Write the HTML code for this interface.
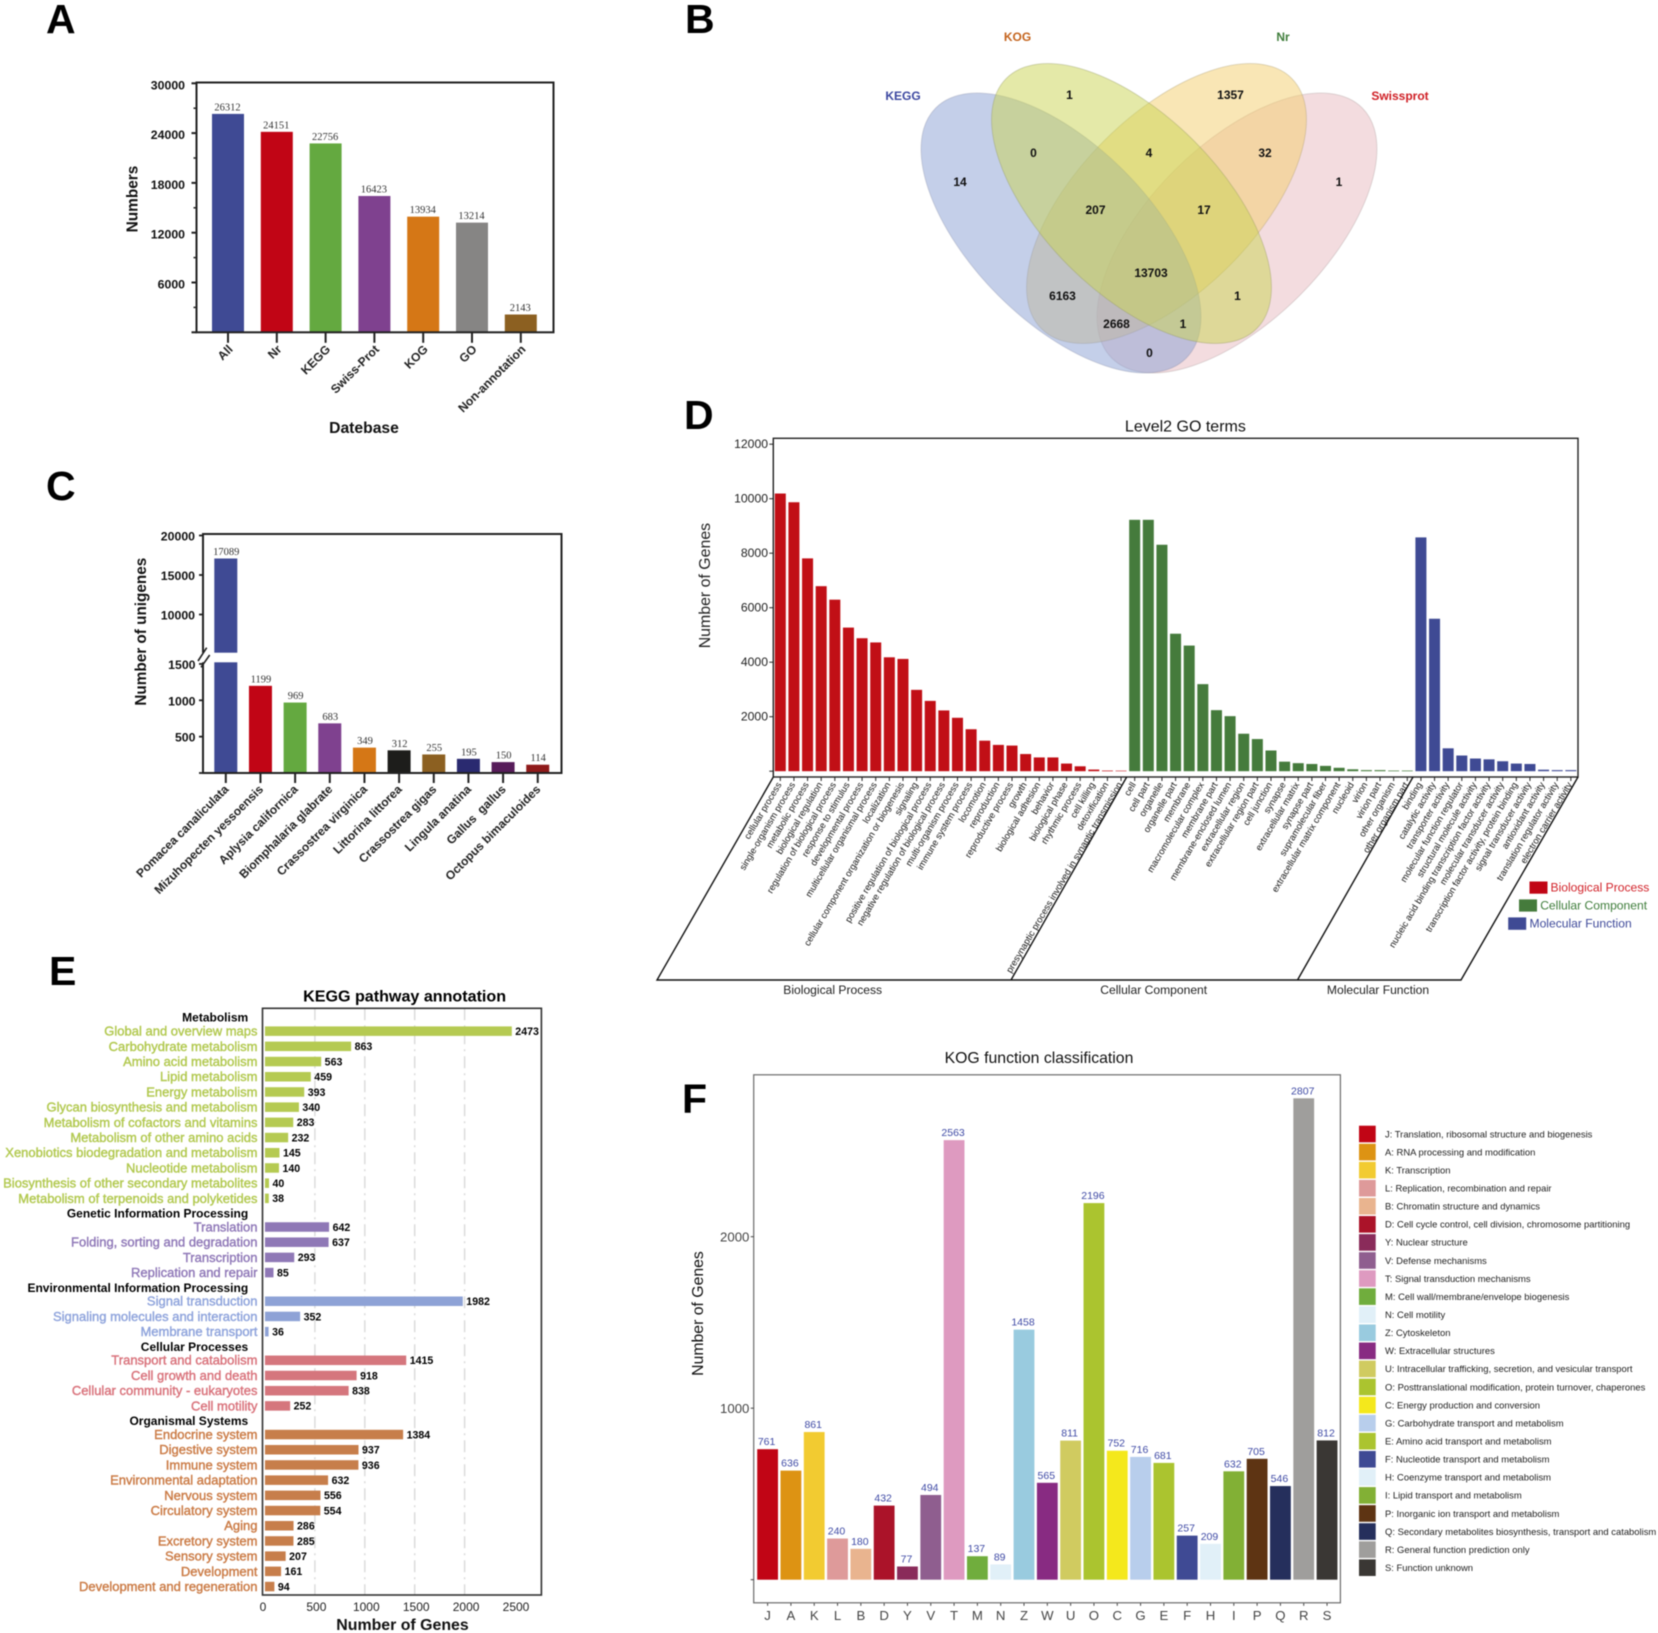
<!DOCTYPE html>
<html lang="en">
<head>
<meta charset="utf-8">
<title>Unigene annotation figure</title>
<style>
html,body{margin:0;padding:0;background:#fff;width:1658px;height:1633px;overflow:hidden}
svg{display:block;filter:blur(.4px)}
text{font-family:"Liberation Sans",Arial,sans-serif}
.serif{font-family:"Liberation Serif","Times New Roman",serif}
</style>
</head>
<body>
<svg id="figure" xmlns="http://www.w3.org/2000/svg" width="1658" height="1633" viewBox="0 0 1658 1633">
  <rect x="0" y="0" width="1658" height="1633" fill="#fff"/>
  <g font-weight="bold" font-size="41" fill="#000">
    <text x="46" y="33">A</text>
    <text x="685" y="33">B</text>
    <text x="46" y="500">C</text>
    <text x="684" y="429">D</text>
    <text x="49" y="985">E</text>
    <text x="682" y="1113">F</text>
  </g>
  <g id="panel-a"></g>
  <g id="panel-b">
    <ellipse cx="1237" cy="233" rx="177" ry="88.5" transform="rotate(-45 1237 233)" fill="#e7b9bf" fill-opacity=".5" stroke="#a89a9c" stroke-opacity=".35"/>
    <ellipse cx="1166.5" cy="203.5" rx="177" ry="88.5" transform="rotate(-45 1166.5 203.5)" fill="#f3cd6b" fill-opacity=".5" stroke="#a89a70" stroke-opacity=".35"/>
    <ellipse cx="1061" cy="233" rx="177" ry="88.5" transform="rotate(45 1061 233)" fill="#899fd3" fill-opacity=".5" stroke="#8a8fa8" stroke-opacity=".35"/>
    <ellipse cx="1131.5" cy="203.5" rx="177" ry="88.5" transform="rotate(45 1131.5 203.5)" fill="#c9d351" fill-opacity=".5" stroke="#8f9660" stroke-opacity=".35"/>
    <g font-weight="bold" font-size="12" text-anchor="middle">
      <text x="903" y="100" fill="#3c47a0">KEGG</text>
      <text x="1017.5" y="41" fill="#c4631c">KOG</text>
      <text x="1283" y="41" fill="#3f7d3b">Nr</text>
      <text x="1400" y="100" fill="#cf1e24">Swissprot</text>
    </g>
    <g font-weight="bold" font-size="12" text-anchor="middle" fill="#111">
      <text x="1069.5" y="99">1</text>
      <text x="1230.5" y="99">1357</text>
      <text x="1033.5" y="157">0</text>
      <text x="1149" y="157">4</text>
      <text x="1265" y="157">32</text>
      <text x="960" y="186">14</text>
      <text x="1339" y="186">1</text>
      <text x="1095.5" y="214">207</text>
      <text x="1204" y="214">17</text>
      <text x="1151" y="277">13703</text>
      <text x="1062.5" y="300">6163</text>
      <text x="1237.5" y="300">1</text>
      <text x="1116.5" y="328">2668</text>
      <text x="1183" y="328">1</text>
      <text x="1149.5" y="357">0</text>
    </g>
  </g>
  <g id="panel-c"></g>
  <g id="panel-d"></g>
  <g id="panel-e"></g>
  <g id="panel-f"></g>
</svg>
<script>
/* ---------- Panel A data ---------- */
const aCategories = ['All','Nr','KEGG','Swiss-Prot','KOG','GO','Non-annotation'];
const aValues = [26312,24151,22756,16423,13934,13214,2143];
const aMajorTicks = [0,6000,12000,18000,24000,30000];
const aMinorTicks = [3000,9000,15000,21000,27000];
const aColors = ['#3f4a94','#c10515','#64a940','#7f418f','#d57716','#868584','#8c6021'];

/* ---------- Panel C data ---------- */
const cCategories = ['Pomacea canaliculata','Mizuhopecten yessoensis','Aplysia californica','Biomphalaria glabrate','Crassostrea virginica','Littorina littorea','Crassostrea gigas','Lingula anatina','Gallus\u00A0\u00A0gallus','Octopus bimaculoides'];
const cValues = [17089,1199,969,683,349,312,255,195,150,114];
const cLowerTicks = [0,500,1000,1500];
const cUpperTicks = [10000,15000,20000];
const cColors = ['#3f4a94','#c10515','#64a940','#7f418f','#d57716','#1d1d1b','#8c6021','#2a2a70','#571c5a','#8f1a1a'];

/* ---------- Panel D data ---------- */
const dBioTerms = ['cellular process','single-organism process','metabolic process','biological regulation','regulation of biological process','response to stimulus','developmental process','multicellular organismal process','localization','cellular component organization or biogenesis','signaling','positive regulation of biological process','negative regulation of biological process','multi-organism process','immune system process','locomotion','reproduction','reproductive process','growth','biological adhesion','behavior','biological phase','rhythmic process','cell killing','detoxification','presynaptic process involved in synaptic transmission'];
const dBioValues = [10190,9870,7810,6790,6295,5270,4880,4725,4180,4120,2985,2580,2230,1960,1540,1120,965,940,630,505,505,280,180,60,25,20];
const dCellTerms = ['cell','cell part','organelle','organelle part','membrane','macromolecular complex','membrane part','membrane-enclosed lumen','extracellular region','extracellular region part','cell junction','synapse','extracellular matrix','synapse part','supramolecular fiber','extracellular matrix component','nucleoid','virion','virion part','other organism','other organism part'];
const dCellValues = [9225,9225,8310,5045,4610,3195,2240,2020,1375,1180,760,350,295,265,195,125,70,40,40,25,25];
const dMolTerms = ['binding','catalytic activity','transporter activity','molecular function regulator','structural molecule activity','nucleic acid binding transcription factor activity','molecular transducer activity','transcription factor activity, protein binding','signal transducer activity','antioxidant activity','translation regulator activity','electron carrier activity'];
const dMolValues = [8580,5595,840,575,465,435,365,280,265,55,40,40];
const dTicks = [0,2000,4000,6000,8000,10000,12000];

/* ---------- Panel E data ---------- */
const eHeaders = ['Metabolism','Genetic Information Processing','Environmental Information Processing','Cellular Processes','Organismal Systems'];
const eMetabolismTerms = ['Global and overview maps','Carbohydrate metabolism','Amino acid metabolism','Lipid metabolism','Energy metabolism','Glycan biosynthesis and metabolism','Metabolism of cofactors and vitamins','Metabolism of other amino acids','Xenobiotics biodegradation and metabolism','Nucleotide metabolism','Biosynthesis of other secondary metabolites','Metabolism of terpenoids and polyketides'];
const eMetabolismValues = [2473,863,563,459,393,340,283,232,145,140,40,38];
const eGeneticTerms = ['Translation','Folding, sorting and degradation','Transcription','Replication and repair'];
const eGeneticValues = [642,637,293,85];
const eEnvironmentalTerms = ['Signal transduction','Signaling molecules and interaction','Membrane transport'];
const eEnvironmentalValues = [1982,352,36];
const eCellularTerms = ['Transport and catabolism','Cell growth and death','Cellular community - eukaryotes','Cell motility'];
const eCellularValues = [1415,918,838,252];
const eOrganismalTerms = ['Endocrine system','Digestive system','Immune system','Environmental adaptation','Nervous system','Circulatory system','Aging','Excretory system','Sensory system','Development','Development and regeneration'];
const eOrganismalValues = [1384,937,936,632,556,554,286,285,207,161,94];
const eTicks = [0,500,1000,1500,2000,2500];
const eGridTicks = [500,1000,1500,2000];
const eBarColors = ['#b5ca52','#8f78b6','#8ea2d6','#d5767d','#c77e4b'];
const eTextColors = ['#b2c950','#9079b8','#8fa4dc','#d9737c','#cb7c47'];

/* ---------- Panel F data ---------- */
const fCategories = ['J','A','K','L','B','D','Y','V','T','M','N','Z','W','U','O','C','G','E','F','H','I','P','Q','R','S'];
const fValues = [761,636,861,240,180,432,77,494,2563,137,89,1458,565,811,2196,752,716,681,257,209,632,705,546,2807,812];
const fTicks = [0,1000,2000];
const fDescriptions = ['J: Translation, ribosomal structure and biogenesis','A: RNA processing and modification','K: Transcription','L: Replication, recombination and repair','B: Chromatin structure and dynamics','D: Cell cycle control, cell division, chromosome partitioning','Y: Nuclear structure','V: Defense mechanisms','T: Signal transduction mechanisms','M: Cell wall/membrane/envelope biogenesis','N: Cell motility','Z: Cytoskeleton','W: Extracellular structures','U: Intracellular trafficking, secretion, and vesicular transport','O: Posttranslational modification, protein turnover, chaperones','C: Energy production and conversion','G: Carbohydrate transport and metabolism','E: Amino acid transport and metabolism','F: Nucleotide transport and metabolism','H: Coenzyme transport and metabolism','I: Lipid transport and metabolism','P: Inorganic ion transport and metabolism','Q: Secondary metabolites biosynthesis, transport and catabolism','R: General function prediction only','S: Function unknown'];
const fColors = ['#c10515','#dd9313','#f2cb31','#de9a9a','#e9b48f','#ab1329','#8a2b5a','#8f5e8f','#de9ac0','#70ad3d','#e1f0f8','#99cbdf','#882b82','#d0cb60','#abc42f','#f4e81c','#b8ceec','#abc42f','#3f4a94','#e1f0f8','#82b035','#5e3413','#252f5c','#9f9e9c','#3a3734'];

const NS = 'http://www.w3.org/2000/svg';
function mk(parent, tag, attrs, content) {
  const el = document.createElementNS(NS, tag);
  for (const k in attrs) el.setAttribute(k, attrs[k]);
  if (content !== undefined) el.textContent = content;
  parent.appendChild(el);
  return el;
}
function slug(s) { return String(s).toLowerCase().replace(/[^a-z0-9]+/g, '-').replace(/^-|-$/g, ''); }

/* ========== PANEL A ========== */
(function () {
  const g = document.getElementById('panel-a');
  const L = 196.5, R = 553.5, T = 82.5, B = 332.3;
  const yA = v => B - v * (B - 83.3) / 30000;
  const xA = i => 228 + i * 48.8;
  aValues.forEach((v, i) => {
    const bar = mk(g, 'rect', {x: xA(i) - 16, y: yA(v), width: 32, height: B - yA(v), fill: aColors[i]});
    
    
    const lab = mk(g, 'text', {x: xA(i) - 0.5, y: yA(v) - 3.5, 'text-anchor': 'middle', 'font-size': 10.5, fill: '#333', class: 'serif'}, v);
    
    
    const tick = mk(g, 'line', {x1: xA(i), x2: xA(i), y1: B, y2: B + 10.5, stroke: '#222', 'stroke-width': 2});
    
    
    const ax = xA(i) + 5.5, ay = 350;
    const cat = mk(g, 'text', {x: ax, y: ay, 'text-anchor': 'end', 'font-size': 12.1, 'font-weight': 'bold', fill: '#222', transform: `rotate(-45 ${ax} ${ay})`}, aCategories[i]);
    
    
  });
  const frame = mk(g, 'rect', {x: L, y: T, width: R - L, height: B - T, fill: 'none', stroke: '#222', 'stroke-width': 2});
  
  
  aMajorTicks.forEach(v => {
    const tick = mk(g, 'line', {x1: L - 5, x2: L, y1: yA(v), y2: yA(v), stroke: '#222', 'stroke-width': 2});
    
    
    if (v > 0) {
      const lab = mk(g, 'text', {x: 185, y: yA(v) + 6, 'text-anchor': 'end', 'font-size': 12.3, 'font-weight': 'bold', fill: '#111'}, v);
      
      
    }
  });
  aMinorTicks.forEach(v => {
    const tick = mk(g, 'line', {x1: L - 3, x2: L, y1: yA(v), y2: yA(v), stroke: '#222', 'stroke-width': 1.5});
    
    
  });
  const yt = mk(g, 'text', {x: 0, y: 0, 'text-anchor': 'middle', 'font-size': 15.4, 'font-weight': 'bold', fill: '#111', transform: 'translate(137.5 199) rotate(-90)'}, 'Numbers');
  
  
  const xt = mk(g, 'text', {x: 364, y: 433, 'text-anchor': 'middle', 'font-size': 15.7, 'font-weight': 'bold', fill: '#111'}, 'Datebase');
  
  
})();

/* ========== PANEL C ========== */
(function () {
  const g = document.getElementById('panel-c');
  const L = 203, R = 561.5, T = 534, B = 773;
  const breakLow = 662.3, breakHigh = 652.7;
  const yLow = v => B - v * 0.0727;
  const yHigh = v => 614.5 - (v - 10000) * 0.0079;
  const xC = i => 225.8 + i * 34.66;
  cValues.forEach((v, i) => {
    const x = xC(i) - 11.5;
    let top;
    if (v > 1500) {
      top = yHigh(v);
      const upper = mk(g, 'rect', {x: x, y: top, width: 23, height: breakHigh - top, fill: cColors[i]});
      
      
      const lower = mk(g, 'rect', {x: x, y: breakLow, width: 23, height: B - breakLow, fill: cColors[i]});
      
      
    } else {
      top = yLow(v);
      const bar = mk(g, 'rect', {x: x, y: top, width: 23, height: B - top, fill: cColors[i]});
      
      
    }
    const lab = mk(g, 'text', {x: xC(i) + 0.5, y: top - 3.5, 'text-anchor': 'middle', 'font-size': 10.5, fill: '#333', class: 'serif'}, v);
    
    
    const tick = mk(g, 'line', {x1: xC(i), x2: xC(i), y1: B, y2: B + 10, stroke: '#222', 'stroke-width': 2});
    
    
    const ax = xC(i) + 3.5, ay = 790;
    const cat = mk(g, 'text', {x: ax, y: ay, 'text-anchor': 'end', 'font-size': 12, 'font-weight': 'bold', fill: '#222', transform: `rotate(-45 ${ax} ${ay})`}, cCategories[i]);
    
    
  });
  const frame = mk(g, 'path', {d: `M${L} ${breakHigh}V${T}H${R}V${B}H${L}V${breakLow}`, fill: 'none', stroke: '#222', 'stroke-width': 2});
  
  
  const b1 = mk(g, 'line', {x1: 198, y1: 661, x2: 206.7, y2: 647.7, stroke: '#222', 'stroke-width': 1.6});
  
  
  const b2 = mk(g, 'line', {x1: 201, y1: 667.3, x2: 209.7, y2: 655, stroke: '#222', 'stroke-width': 1.6});
  
  
  cLowerTicks.forEach(v => {
    const tick = mk(g, 'line', {x1: L - 4, x2: L, y1: yLow(v), y2: yLow(v), stroke: '#222', 'stroke-width': 1.8});
    
    
    if (v > 0) {
      const lab = mk(g, 'text', {x: 195.5, y: yLow(v) + 5, 'text-anchor': 'end', 'font-size': 12.3, 'font-weight': 'bold', fill: '#111'}, v);
      
      
    }
  });
  cUpperTicks.forEach(v => {
    const tick = mk(g, 'line', {x1: L - 4, x2: L, y1: yHigh(v), y2: yHigh(v), stroke: '#222', 'stroke-width': 1.8});
    
    
    const lab = mk(g, 'text', {x: 195, y: yHigh(v) + 5, 'text-anchor': 'end', 'font-size': 12.3, 'font-weight': 'bold', fill: '#111'}, v);
    
    
  });
  const yt = mk(g, 'text', {x: 0, y: 0, 'text-anchor': 'middle', 'font-size': 15.3, 'font-weight': 'bold', fill: '#111', transform: 'translate(146 631.7) rotate(-90)'}, 'Number of unigenes');
  
  
})();

/* ========== PANEL D ========== */
(function () {
  const g = document.getElementById('panel-d');
  const L = 773.3, R = 1578, T = 438.3, B = 777, Y0 = 771.2, BASE = 980;
  const yD = v => Y0 - v * 0.02725;
  const xD = i => 780.3 + i * 13.63;
  const groups = [
    {terms: dBioTerms, values: dBioValues, color: '#c10f16'},
    {terms: dCellTerms, values: dCellValues, color: '#457b3c'},
    {terms: dMolTerms, values: dMolValues, color: '#3f4a94'}
  ];
  let idx = 0;
  groups.forEach(grp => {
    grp.values.forEach((v, j) => {
      const i = idx++;
      const bar = mk(g, 'rect', {x: xD(i) - 5.5, y: yD(v), width: 11, height: Y0 - yD(v), fill: grp.color});
      
      
      const tick = mk(g, 'line', {x1: xD(i), x2: xD(i), y1: B, y2: B + 4, stroke: '#222', 'stroke-width': 1});
      
      
      const ax = xD(i) + 1.5, ay = 784.5;
      const lab = mk(g, 'text', {x: ax, y: ay, 'text-anchor': 'end', 'font-size': 9.25, fill: '#111', transform: `rotate(-59.5 ${ax} ${ay})`}, grp.terms[j]);
      
      
    });
  });
  const frame = mk(g, 'rect', {x: L, y: T, width: R - L, height: B - T, fill: 'none', stroke: '#222', 'stroke-width': 1.4});
  
  
  const brackets = mk(g, 'path', {d: `M${L} ${B}L657 ${BASE}H1461L${R} ${B}M1011 ${BASE}L1126.7 ${B}M1297.5 ${BASE}L1413 ${B}`, fill: 'none', stroke: '#111', 'stroke-width': 1.4});
  
  
  dTicks.forEach(v => {
    const tick = mk(g, 'line', {x1: L - 4, x2: L, y1: yD(v), y2: yD(v), stroke: '#222', 'stroke-width': 1});
    
    
    if (v > 0) {
      const lab = mk(g, 'text', {x: 768, y: yD(v) + 3.7, 'text-anchor': 'end', 'font-size': 12.2, fill: '#222'}, v);
      
      
    }
  });
  const title = mk(g, 'text', {x: 1185.4, y: 431.5, 'text-anchor': 'middle', 'font-size': 16, fill: '#111'}, 'Level2 GO terms');
  
  
  const yt = mk(g, 'text', {x: 0, y: 0, 'text-anchor': 'middle', 'font-size': 15.9, fill: '#222', transform: 'translate(710 585.6) rotate(-90)'}, 'Number of Genes');
  
  
  const g1 = mk(g, 'text', {x: 832.7, y: 994, 'text-anchor': 'middle', 'font-size': 12.1, fill: '#222'}, 'Biological Process');
  
  
  const g2 = mk(g, 'text', {x: 1153.7, y: 994, 'text-anchor': 'middle', 'font-size': 12.1, fill: '#222'}, 'Cellular Component');
  
  
  const g3 = mk(g, 'text', {x: 1378, y: 994, 'text-anchor': 'middle', 'font-size': 12.1, fill: '#222'}, 'Molecular Function');
  
  

  const s1 = mk(g, 'rect', {x: 1529.5, y: 881.5, width: 18, height: 12.2, fill: '#c10515'});
  
  
  const t1 = mk(g, 'text', {x: 1550.5, y: 891.3, 'font-size': 12.1, fill: '#d2232a'}, 'Biological Process');
  
  
  const s2 = mk(g, 'rect', {x: 1519, y: 899.4, width: 18, height: 12.2, fill: '#457b3c'});
  
  
  const t2 = mk(g, 'text', {x: 1540.2, y: 909.4, 'font-size': 12.1, fill: '#3f7d3b'}, 'Cellular Component');
  
  
  const s3 = mk(g, 'rect', {x: 1508.2, y: 917.4, width: 18, height: 12.4, fill: '#3f4a94'});
  
  
  const t3 = mk(g, 'text', {x: 1529.5, y: 927.4, 'font-size': 12.1, fill: '#3f4a9a'}, 'Molecular Function');
  
  
})();

/* ========== PANEL E ========== */
(function () {
  const g = document.getElementById('panel-e');
  const L = 262.5, R = 541.4, T = 1008.3, B = 1595;
  const xE = v => 265 + v * 0.0998;
  const STEP = 15.2, HEADER_GAP = 13.45;
  eGridTicks.forEach(v => {
    const grid = mk(g, 'line', {x1: xE(v), x2: xE(v), y1: T, y2: B, stroke: '#dcdcdc', 'stroke-width': 1.5, 'stroke-dasharray': '12 5 2 5'});
    
    
  });
  eTicks.forEach(v => {
    const lx = v === 0 ? xE(v) - 2 : xE(v) + 1.5;
    const lab = mk(g, 'text', {x: lx, y: 1611, 'text-anchor': 'middle', 'font-size': 12, fill: '#222'}, v);
    
    
  });
  const termLists = [eMetabolismTerms, eGeneticTerms, eEnvironmentalTerms, eCellularTerms, eOrganismalTerms];
  const valueLists = [eMetabolismValues, eGeneticValues, eEnvironmentalValues, eCellularValues, eOrganismalValues];
  let y = 1017.7;
  eHeaders.forEach((h, gi) => {
    const head = mk(g, 'text', {x: 248.2, y: y + 4, 'text-anchor': 'end', 'font-size': 12, 'font-weight': 'bold', fill: '#000'}, h);
    
    
    y += HEADER_GAP;
    valueLists[gi].forEach((v, j) => {
      const term = termLists[gi][j];
      const bar = mk(g, 'rect', {x: 265, y: y - 4.75, width: xE(v) - 265, height: 9.5, fill: eBarColors[gi]});
      
      
      const lab = mk(g, 'text', {x: 257.5, y: y + 4.4, 'text-anchor': 'end', 'font-size': 13, fill: eTextColors[gi], stroke: eTextColors[gi], 'stroke-width': 0.4}, term);
      
      
      const val = mk(g, 'text', {x: xE(v) + 3.5, y: y + 3.8, 'font-size': 10.6, 'font-weight': 'bold', fill: '#000'}, v);
      
      
      y += STEP;
    });
  });
  const frame = mk(g, 'rect', {x: L, y: T, width: R - L, height: B - T, fill: 'none', stroke: '#333', 'stroke-width': 1.6});
  
  
  const title = mk(g, 'text', {x: 404.6, y: 1001.5, 'text-anchor': 'middle', 'font-size': 16.1, 'font-weight': 'bold', fill: '#000'}, 'KEGG pathway annotation');
  
  
  const xt = mk(g, 'text', {x: 402.5, y: 1630, 'text-anchor': 'middle', 'font-size': 15.9, 'font-weight': 'bold', fill: '#111'}, 'Number of Genes');
  
  
})();

/* ========== PANEL F ========== */
(function () {
  const g = document.getElementById('panel-f');
  const L = 753.7, R = 1340.4, T = 1074.8, B = 1602.8, Y0 = 1579.7;
  const yF = v => Y0 - v * 0.1715;
  const xF = i => 767.6 + i * 23.31;
  fValues.forEach((v, i) => {
    const c = fCategories[i];
    const bar = mk(g, 'rect', {x: xF(i) - 10.4, y: yF(v), width: 20.8, height: Y0 - yF(v), fill: fColors[i]});
    
    
    const val = mk(g, 'text', {x: xF(i) - 1, y: yF(v) - 4, 'text-anchor': 'middle', 'font-size': 10.5, fill: '#3f4aa5'}, v);
    
    
    const tick = mk(g, 'line', {x1: xF(i), x2: xF(i), y1: B, y2: B + 3, stroke: '#444', 'stroke-width': 1});
    
    
    const lab = mk(g, 'text', {x: xF(i), y: 1620, 'text-anchor': 'middle', 'font-size': 13.2, fill: '#444'}, c);
    
    
    const rowY = 1125.7 + i * 18.07;
    const sw = mk(g, 'rect', {x: 1359, y: rowY, width: 16.7, height: 16.6, fill: fColors[i]});
    
    
    const txt = mk(g, 'text', {x: 1385, y: rowY + 11.6, 'font-size': 9.43, fill: '#222'}, fDescriptions[i]);
    
    
  });
  const frame = mk(g, 'rect', {x: L, y: T, width: R - L, height: B - T, fill: 'none', stroke: '#6b6b6b', 'stroke-width': 1.2});
  
  
  fTicks.forEach(v => {
    const tick = mk(g, 'line', {x1: L - 3, x2: L, y1: yF(v), y2: yF(v), stroke: '#444', 'stroke-width': 1});
    
    
    if (v > 0) {
      const lab = mk(g, 'text', {x: 749.4, y: yF(v) + 5, 'text-anchor': 'end', 'font-size': 13.2, fill: '#444'}, v);
      
      
    }
  });
  const title = mk(g, 'text', {x: 1039, y: 1063, 'text-anchor': 'middle', 'font-size': 15.8, fill: '#111'}, 'KOG function classification');
  
  
  const yt = mk(g, 'text', {x: 0, y: 0, 'text-anchor': 'middle', 'font-size': 15.8, fill: '#111', transform: 'translate(703 1313.5) rotate(-90)'}, 'Number of Genes');
  
  
})();
</script>
</body>
</html>
